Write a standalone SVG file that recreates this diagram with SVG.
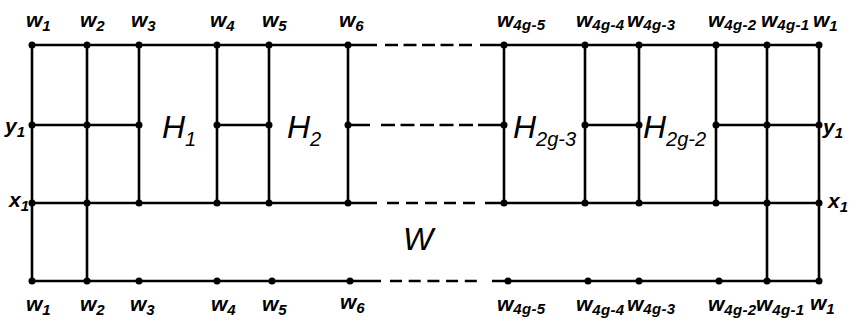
<svg xmlns="http://www.w3.org/2000/svg" width="849" height="325" viewBox="0 0 849 325">
<style>
.e{stroke:#000;stroke-width:2.6;fill:none;stroke-linecap:butt}
.d{stroke:#000;stroke-width:2.6;fill:none}
.v{fill:#000}
.l{font-family:"Liberation Sans",Arial,sans-serif;font-style:italic;font-weight:bold;font-size:21px;fill:#000}
.s{font-size:15px;letter-spacing:0.3px}
.h{font-family:"Liberation Sans",Arial,sans-serif;font-style:italic;font-size:32px;fill:#000}
.hs{font-size:20px}
</style>
<rect width="849" height="325" fill="#fff"/>
<g id="connectors">
<path class="e" d="M32 45V281M87 45V281M139 45V203M217 45V203M269 45V203M348 45V203M504 45V203M585 45V203M639 45V203M716 45V203M767 45V281M819 45V281"/>
<path class="e" d="M32 45H377M480 45H819M32 125H139M217 125H269M348 125H370M478 125H504M585 125H639M716 125H819M32 203H377M485 203H819M32 281H381M492 281H819"/>
<path class="d" stroke-dasharray="13 5.5" d="M385 45H473"/>
<path class="d" stroke-dasharray="14 5.5" d="M381 125H473"/>
<path class="d" stroke-dasharray="12 7" d="M387 203H476"/>
<path class="d" stroke-dasharray="12 6.7" d="M390 281H477"/>
</g>
<g id="nodes">
<g id="t1"><circle class="v" cx="32" cy="45" r="3.5"/><text class="l" x="26" y="27">w<tspan class="s" dy="4">1</tspan></text></g>
<g id="t2"><circle class="v" cx="87" cy="45" r="3.5"/><text class="l" x="80" y="27">w<tspan class="s" dy="4">2</tspan></text></g>
<g id="t3"><circle class="v" cx="139" cy="45" r="3.5"/><text class="l" x="131" y="27">w<tspan class="s" dy="4">3</tspan></text></g>
<g id="t4"><circle class="v" cx="217" cy="45" r="3.5"/><text class="l" x="210" y="27">w<tspan class="s" dy="4">4</tspan></text></g>
<g id="t5"><circle class="v" cx="269" cy="45" r="3.5"/><text class="l" x="262" y="27">w<tspan class="s" dy="4">5</tspan></text></g>
<g id="t6"><circle class="v" cx="348" cy="45" r="3.5"/><text class="l" x="339" y="27">w<tspan class="s" dy="4">6</tspan></text></g>
<g id="t4g5"><circle class="v" cx="504" cy="45" r="3.5"/><text class="l" x="497" y="27">w<tspan class="s" dy="3">4g-5</tspan></text></g>
<g id="t4g4"><circle class="v" cx="585" cy="45" r="3.5"/><text class="l" x="576" y="27">w<tspan class="s" dy="3">4g-4</tspan></text></g>
<g id="t4g3"><circle class="v" cx="639" cy="45" r="3.5"/><text class="l" x="627" y="27">w<tspan class="s" dy="3">4g-3</tspan></text></g>
<g id="t4g2"><circle class="v" cx="716" cy="45" r="3.5"/><text class="l" x="708" y="27">w<tspan class="s" dy="3">4g-2</tspan></text></g>
<g id="t4g1"><circle class="v" cx="767" cy="45" r="3.5"/><text class="l" x="761" y="27">w<tspan class="s" dy="3">4g-1</tspan></text></g>
<g id="t1r"><circle class="v" cx="819" cy="45" r="3.5"/><text class="l" x="813" y="27">w<tspan class="s" dy="4">1</tspan></text></g>

<g id="y1l"><circle class="v" cx="32" cy="125" r="3.5"/><text class="l" x="5" y="133">y<tspan class="s" dy="4">1</tspan></text></g>
<g id="y2"><circle class="v" cx="87" cy="125" r="3.5"/></g>
<g id="y3"><circle class="v" cx="139" cy="125" r="3.5"/></g>
<g id="y4"><circle class="v" cx="217" cy="125" r="3.5"/></g>
<g id="y5"><circle class="v" cx="269" cy="125" r="3.5"/></g>
<g id="y6"><circle class="v" cx="348" cy="125" r="3.5"/></g>
<g id="y7"><circle class="v" cx="504" cy="125" r="3.5"/></g>
<g id="y8"><circle class="v" cx="585" cy="125" r="3.5"/></g>
<g id="y9"><circle class="v" cx="639" cy="125" r="3.5"/></g>
<g id="y10"><circle class="v" cx="716" cy="125" r="3.5"/></g>
<g id="y11"><circle class="v" cx="767" cy="125" r="3.5"/></g>
<g id="y1r"><circle class="v" cx="819" cy="125" r="3.5"/><text class="l" x="823" y="134">y<tspan class="s" dy="4">1</tspan></text></g>

<g id="x1l"><circle class="v" cx="32" cy="203" r="3.5"/><text class="l" x="9" y="207">x<tspan class="s" dy="4">1</tspan></text></g>
<g id="x2"><circle class="v" cx="87" cy="203" r="3.5"/></g>
<g id="x3"><circle class="v" cx="139" cy="203" r="3.5"/></g>
<g id="x4"><circle class="v" cx="217" cy="203" r="3.5"/></g>
<g id="x5"><circle class="v" cx="269" cy="203" r="3.5"/></g>
<g id="x6"><circle class="v" cx="348" cy="203" r="3.5"/></g>
<g id="x7"><circle class="v" cx="504" cy="203" r="3.5"/></g>
<g id="x8"><circle class="v" cx="585" cy="203" r="3.5"/></g>
<g id="x9"><circle class="v" cx="639" cy="203" r="3.5"/></g>
<g id="x10"><circle class="v" cx="716" cy="203" r="3.5"/></g>
<g id="x11"><circle class="v" cx="767" cy="203" r="3.5"/></g>
<g id="x1r"><circle class="v" cx="819" cy="203" r="3.5"/><text class="l" x="828" y="208">x<tspan class="s" dy="4">1</tspan></text></g>

<g id="b1"><circle class="v" cx="32" cy="281" r="3.5"/><text class="l" x="26" y="311">w<tspan class="s" dy="4">1</tspan></text></g>
<g id="b2"><circle class="v" cx="87" cy="281" r="3.5"/><text class="l" x="80" y="311">w<tspan class="s" dy="4">2</tspan></text></g>
<g id="b3"><circle class="v" cx="139" cy="281" r="3.5"/><text class="l" x="130" y="311">w<tspan class="s" dy="4">3</tspan></text></g>
<g id="b4"><circle class="v" cx="217" cy="281" r="3.5"/><text class="l" x="211" y="311">w<tspan class="s" dy="4">4</tspan></text></g>
<g id="b5"><circle class="v" cx="272" cy="281" r="3.5"/><text class="l" x="262" y="311">w<tspan class="s" dy="4">5</tspan></text></g>
<g id="b6"><circle class="v" cx="350" cy="281" r="3.5"/><text class="l" x="340" y="309">w<tspan class="s" dy="4">6</tspan></text></g>
<g id="b4g5"><circle class="v" cx="508" cy="281" r="3.5"/><text class="l" x="497" y="311">w<tspan class="s" dy="3">4g-5</tspan></text></g>
<g id="b4g4"><circle class="v" cx="588" cy="281" r="3.5"/><text class="l" x="576" y="311">w<tspan class="s" dy="4">4g-4</tspan></text></g>
<g id="b4g3"><circle class="v" cx="639" cy="281" r="3.5"/><text class="l" x="627" y="311">w<tspan class="s" dy="3">4g-3</tspan></text></g>
<g id="b4g2"><circle class="v" cx="719" cy="281" r="3.5"/><text class="l" x="708" y="311">w<tspan class="s" dy="4">4g-2</tspan></text></g>
<g id="b4g1"><circle class="v" cx="767" cy="281" r="3.5"/><text class="l" x="756" y="311">w<tspan class="s" dy="4">4g-1</tspan></text></g>
<g id="b1r"><circle class="v" cx="819" cy="281" r="3.5"/><text class="l" x="810" y="310">w<tspan class="s" dy="4">1</tspan></text></g>
</g>
<g id="regions">
<text class="h" x="162" y="138">H<tspan class="hs" dy="8">1</tspan></text>
<text class="h" x="287" y="138">H<tspan class="hs" dy="8">2</tspan></text>
<text class="h" x="513" y="138">H<tspan class="hs" dy="8">2g-3</tspan></text>
<text class="h" x="643" y="138">H<tspan class="hs" dy="8">2g-2</tspan></text>
<text class="h" x="403" y="250" font-size="34">W</text>
</g>
</svg>
